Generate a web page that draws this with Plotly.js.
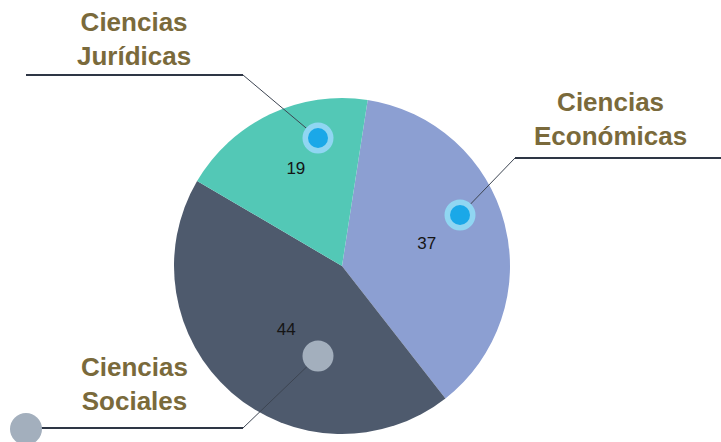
<!DOCTYPE html>
<html>
<head>
<meta charset="utf-8">
<script src="https://cdn.plot.ly/plotly-3.0.1.min.js"></script>
<style>html,body{margin:0;padding:0;background:#fff;}#chart{width:721px;height:442px;}</style>
</head>
<body>
<div id="chart"></div>
<script>
// Data
const categories = ["Ciencias Económicas", "Ciencias Sociales", "Ciencias Jurídicas"];
const values = [37, 44, 19];
const labelLines = [["Ciencias", "Económicas"], ["Ciencias", "Sociales"], ["Ciencias", "Jurídicas"]];
const sliceColors = ["#8c9fd2", "#4e5a6d", "#53c8b6"];

const W = 721, H = 442;
const px = x => x / W;
const py = y => 1 - y / H;

// pie geometry (pixels)
const cx = 342, cy = 266, R = 168;

const trace = {
  type: "pie",
  labels: categories,
  values: values,
  sort: false,
  direction: "clockwise",
  rotation: 8.8,
  marker: { colors: sliceColors, line: { width: 0 } },
  textinfo: "value",
  textposition: "inside",
  insidetextorientation: "horizontal",
  insidetextfont: { family: "Liberation Sans, Arial, sans-serif", size: 17, color: "#151515" },
  hoverinfo: "none",
  domain: { x: [px(cx - R), px(cx + R)], y: [py(cy + R), py(cy - R)] },
  showlegend: false
};

const lineDark = "#2e3645";
const shapes = [];
function seg(x0, y0, x1, y1, w, c) {
  shapes.push({ type: "line", xref: "paper", yref: "paper", x0: px(x0), y0: py(y0), x1: px(x1), y1: py(y1), line: { color: c, width: w }, layer: "above" });
}
function dot(x, y, r, fill) {
  shapes.push({ type: "circle", xref: "paper", yref: "paper", x0: px(x - r), x1: px(x + r), y0: py(y + r), y1: py(y - r), fillcolor: fill, line: { width: 0 }, layer: "above" });
}
// callouts: Económicas
seg(515, 158, 460, 215, 1, "#3d4552");
seg(515, 158, 721, 158, 2, lineDark);
// Sociales
seg(243, 428, 318, 356, 1, "#3d4552");
seg(26, 428, 243, 428, 2, lineDark);
// Jurídicas
seg(243, 75, 318, 138, 1, "#3d4552");
seg(26, 75, 243, 75, 2, lineDark);
// dots
dot(460, 215, 15.5, "#90d6f2");
dot(460, 215, 10, "#1aa8e8");
dot(318, 138, 15.5, "#90d6f2");
dot(318, 138, 10, "#1aa8e8");
dot(318, 356, 15.5, "#a3afbd");
dot(26, 429, 16, "#a3afbd");

const labelPos = [[610, 119], [134, 384], [134, 39]];
const labelFont = { family: "Liberation Sans, Arial, sans-serif", size: 26, color: "#7a6a3b", weight: "bold" };
const annotations = labelLines.map((ln, i) => ({
  xref: "paper", yref: "paper",
  x: px(labelPos[i][0]), y: py(labelPos[i][1]),
  text: "<b>" + ln.join("<br>") + "</b>",
  showarrow: false, align: "center", xanchor: "center", yanchor: "middle",
  font: labelFont
}));

const layout = {
  width: W, height: H,
  margin: { l: 0, r: 0, t: 0, b: 0 },
  paper_bgcolor: "#fff", plot_bgcolor: "#fff",
  shapes: shapes,
  annotations: annotations,
  showlegend: false
};

Plotly.newPlot("chart", [trace], layout, { displayModeBar: false, staticPlot: true });
</script>
</body>
</html>
